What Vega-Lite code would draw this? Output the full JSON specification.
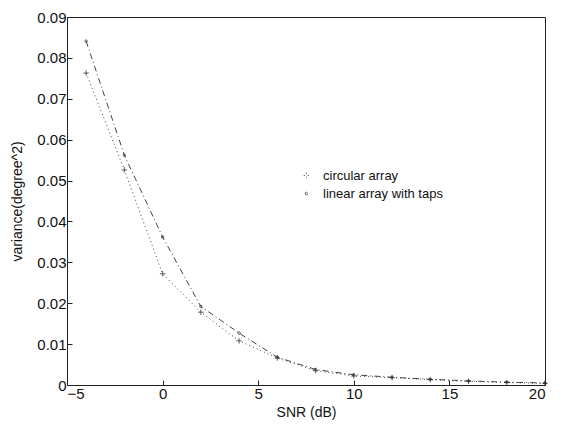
{
  "$schema": "https://vega.github.io/schema/vega-lite/v6.json",
  "width": 478,
  "height": 368,
  "autosize": "none",
  "padding": {"left": 67, "top": 17, "right": 16, "bottom": 51},
  "background": "white",
  "config": {
    "font": "Liberation Sans",
    "view": {"stroke": "#222", "strokeWidth": 1},
    "axis": {
      "grid": false,
      "domain": false,
      "tickColor": "#222",
      "tickSize": -5,
      "labelColor": "#111",
      "labelFontSize": 15,
      "titleColor": "#111",
      "titleFontSize": 14,
      "titleFontWeight": "normal",
      "labelPadding": 6
    }
  },
  "data": {
    "values": [
      {"snr": -4, "v": 0.0763, "s": "circular array"},
      {"snr": -2, "v": 0.0526, "s": "circular array"},
      {"snr": 0, "v": 0.0272, "s": "circular array"},
      {"snr": 2, "v": 0.0178, "s": "circular array"},
      {"snr": 4, "v": 0.0108, "s": "circular array"},
      {"snr": 6, "v": 0.0066, "s": "circular array"},
      {"snr": 8, "v": 0.0035, "s": "circular array"},
      {"snr": 10, "v": 0.0022, "s": "circular array"},
      {"snr": 12, "v": 0.0018, "s": "circular array"},
      {"snr": 14, "v": 0.0013, "s": "circular array"},
      {"snr": 16, "v": 0.0009, "s": "circular array"},
      {"snr": 18, "v": 0.0006, "s": "circular array"},
      {"snr": 20, "v": 0.0004, "s": "circular array"},
      {"snr": -4, "v": 0.0841, "s": "linear array with taps"},
      {"snr": -2, "v": 0.0562, "s": "linear array with taps"},
      {"snr": 0, "v": 0.0362, "s": "linear array with taps"},
      {"snr": 2, "v": 0.0192, "s": "linear array with taps"},
      {"snr": 4, "v": 0.0127, "s": "linear array with taps"},
      {"snr": 6, "v": 0.0068, "s": "linear array with taps"},
      {"snr": 8, "v": 0.0038, "s": "linear array with taps"},
      {"snr": 10, "v": 0.0025, "s": "linear array with taps"},
      {"snr": 12, "v": 0.0019, "s": "linear array with taps"},
      {"snr": 14, "v": 0.0014, "s": "linear array with taps"},
      {"snr": 16, "v": 0.001, "s": "linear array with taps"},
      {"snr": 18, "v": 0.0007, "s": "linear array with taps"},
      {"snr": 20, "v": 0.0005, "s": "linear array with taps"}
    ]
  },
  "encoding": {
    "x": {
      "field": "snr", "type": "quantitative",
      "scale": {"domain": [-5, 20], "nice": false},
      "axis": {"values": [-5, 0, 5, 10, 15, 20], "title": "SNR (dB)", "titlePadding": 4}
    },
    "y": {
      "field": "v", "type": "quantitative",
      "scale": {"domain": [0, 0.09], "nice": false},
      "axis": {
        "values": [0, 0.01, 0.02, 0.03, 0.04, 0.05, 0.06, 0.07, 0.08, 0.09],
        "labelExpr": "datum.value == 0 ? '0' : format(datum.value, '.2f')",
        "title": "variance(degree^2)",
        "titlePadding": 12
      }
    }
  },
  "layer": [
    {
      "mark": {"type": "line", "strokeWidth": 1},
      "encoding": {
        "color": {
          "field": "s", "type": "nominal",
          "scale": {"domain": ["circular array", "linear array with taps"], "range": ["#444", "#444"]},
          "legend": {
            "orient": "none", "legendX": 233, "legendY": 152, "title": null,
            "symbolType": "stroke", "symbolSize": 300,
            "labelFontSize": 13, "labelColor": "#111", "symbolStrokeWidth": 1,
            "rowPadding": 4, "labelOffset": 10
          }
        },
        "strokeDash": {
          "field": "s", "type": "nominal",
          "scale": {"domain": ["circular array", "linear array with taps"], "range": [[1, 3], [6, 3, 1, 3]]},
          "legend": null
        }
      }
    },
    {
      "mark": {"type": "point", "filled": false, "strokeWidth": 1, "color": "#222"},
      "encoding": {
        "shape": {
          "field": "s", "type": "nominal",
          "scale": {"domain": ["circular array", "linear array with taps"], "range": ["M-1,0H1M0,-1V1", "circle"]},
          "legend": null
        },
        "size": {
          "field": "s", "type": "nominal",
          "scale": {"domain": ["circular array", "linear array with taps"], "range": [30, 6]},
          "legend": null
        }
      }
    }
  ]
}
